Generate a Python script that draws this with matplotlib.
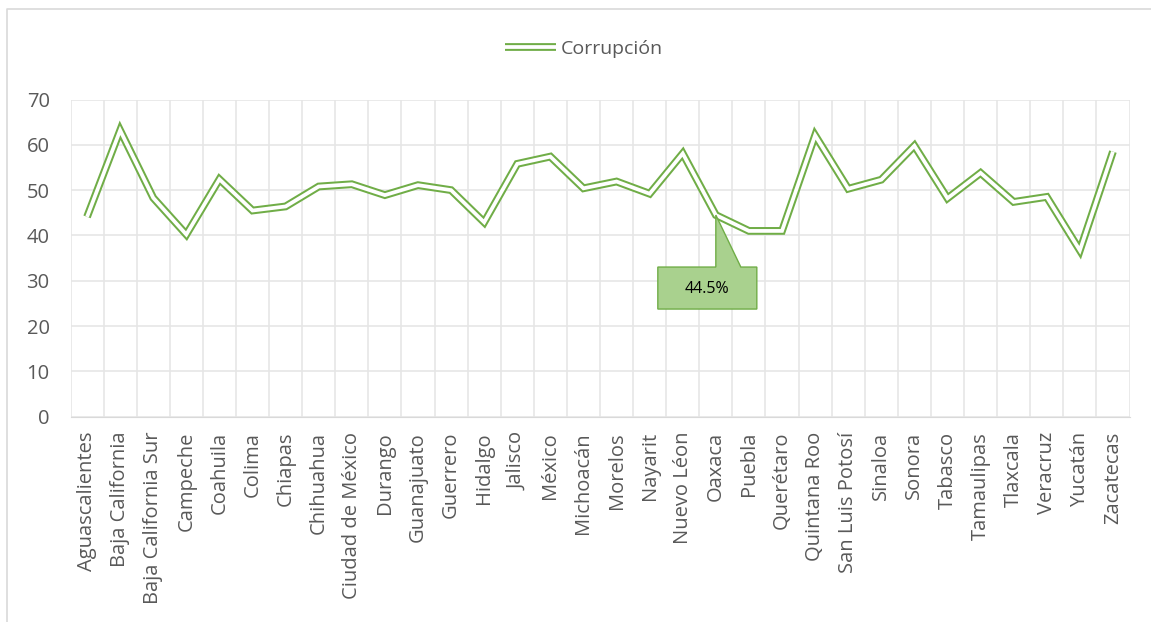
import numpy as np
import matplotlib
matplotlib.use("Agg")
import matplotlib.pyplot as plt
import matplotlib.transforms as mtransforms
from matplotlib.patches import Polygon
from matplotlib.lines import Line2D

plt.rcParams['font.family'] = ['Open Sans', 'DejaVu Sans']

estados = ["Aguascalientes", "Baja California", "Baja California Sur", "Campeche",
           "Coahuila", "Colima", "Chiapas", "Chihuahua", "Ciudad de México", "Durango",
           "Guanajuato", "Guerrero", "Hidalgo", "Jalisco", "México", "Michoacán",
           "Morelos", "Nayarit", "Nuevo Léon", "Oaxaca", "Puebla", "Querétaro",
           "Quintana Roo", "San Luis Potosí", "Sinaloa", "Sonora", "Tabasco",
           "Tamaulipas", "Tlaxcala", "Veracruz", "Yucatán", "Zacatecas"]
corrupcion = [44.1, 63.2, 48.3, 40.2, 52.4, 45.5, 46.4, 50.8, 51.3, 48.9,
              51.1, 50.0, 42.9, 55.8, 57.4, 50.4, 51.9, 49.2, 58.1, 44.5,
              41.0, 41.0, 62.1, 50.3, 52.3, 59.8, 48.2, 53.8, 47.4, 48.5,
              36.7, 58.5]
callout_estado = "Oaxaca"
callout_texto = "44.5%"

verde = "#70AD47"
gris_txt = "#595959"
gris_grid = "#E6E6E6"
lw_out, lw_in = 5.6, 2.7

fig = plt.figure(figsize=(11.51, 6.22), dpi=100)
ax = fig.add_axes([70.5 / 1151, 1 - 416.7 / 622, 1059 / 1151, 317.2 / 622])

x = np.arange(len(estados))
ax.plot(x, corrupcion, color=verde, lw=lw_out, solid_joinstyle="miter", solid_capstyle="butt", zorder=3)
ax.plot(x, corrupcion, color="white", lw=lw_in, solid_joinstyle="miter", solid_capstyle="butt", zorder=4)

ax.set_xlim(-0.5, len(estados) - 0.5)
ax.set_ylim(0, 70)
ax.set_yticks(range(0, 71, 10))
ax.set_xticks(x)
ax.set_xticklabels(estados, rotation=90, va="top", ha="center")
ax.set_xticks(np.arange(-0.5, len(estados), 1), minor=True)
ax.tick_params(axis="both", which="both", length=0, labelsize=14.5, colors=gris_txt)
ax.tick_params(axis="y", pad=15)
ax.tick_params(axis="x", pad=11)
ax.grid(True, axis="y", color=gris_grid, lw=1.2)
ax.grid(True, axis="x", which="minor", color=gris_grid, lw=1.2)
ax.grid(False, axis="x", which="major")
ax.set_axisbelow(True)
for s in ["top", "right", "left"]:
    ax.spines[s].set_visible(False)
ax.spines["bottom"].set_color("#D9D9D9")

# callout for Oaxaca
i = estados.index(callout_estado)
tr = mtransforms.Affine2D() + mtransforms.ScaledTranslation(x[i], corrupcion[i], ax.transData)
verts = [(0, 0), (25, -52), (41, -52), (41, -94), (-58, -94), (-58, -52), (0, -52)]
ax.add_patch(Polygon(verts, closed=True, transform=tr, facecolor="#A9D18E",
                     edgecolor=verde, lw=1, zorder=5, clip_on=False))
ax.text(-8.5, -74, callout_texto, transform=tr, ha="center", va="center",
        fontsize=11.5, color="black", zorder=6)

# legend with double line, drawn by hand
ly = 1 - 46.5 / 622
lx = [505 / 1151, 556 / 1151]
fig.add_artist(Line2D(lx, [ly, ly], transform=fig.transFigure, color=verde, lw=lw_out, solid_capstyle="butt"))
fig.add_artist(Line2D(lx, [ly, ly], transform=fig.transFigure, color="white", lw=lw_in, solid_capstyle="butt"))
fig.text(561 / 1151, 1 - 48.5 / 622, "Corrupción", ha="left", va="center", fontsize=14, color=gris_txt)

# chart border
fig.add_artist(Line2D([7.5 / 1151, 7.5 / 1151, 1], [0, 1 - 9 / 622, 1 - 9 / 622],
                      transform=fig.transFigure, color="#D9D9D9", lw=1.2))

fig.savefig("out.png", dpi=100)
